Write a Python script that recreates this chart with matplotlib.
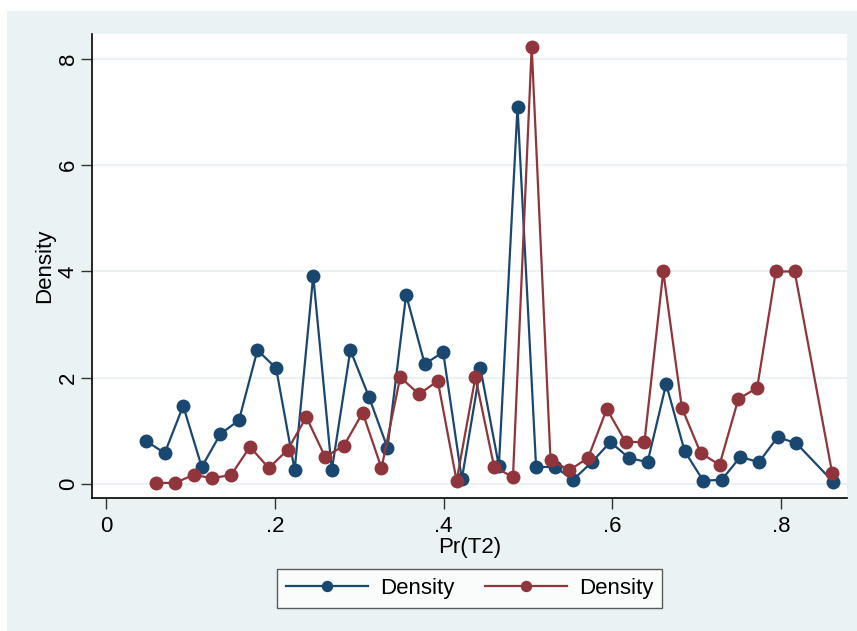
import matplotlib
matplotlib.use("Agg")
import matplotlib.pyplot as plt
from matplotlib.patches import Rectangle

plt.rcParams['font.family'] = ['Liberation Sans', 'DejaVu Sans']

# first density series (navy)
x1 = [0.0474, 0.0695, 0.0914, 0.1134, 0.1355, 0.1575, 0.1794, 0.2015, 0.2235,
      0.2455, 0.2675, 0.2895, 0.3115, 0.3335, 0.3556, 0.3776, 0.3995, 0.4216,
      0.4436, 0.4655, 0.4876, 0.5096, 0.5316, 0.5536, 0.5756, 0.5976, 0.6196,
      0.6417, 0.6637, 0.6856, 0.7077, 0.7297, 0.7516, 0.7737, 0.7957, 0.8178,
      0.8616]
y1 = [0.81, 0.58, 1.47, 0.32, 0.94, 1.20, 2.52, 2.18, 0.26,
      3.92, 0.26, 2.52, 1.64, 0.68, 3.56, 2.26, 2.48, 0.09,
      2.18, 0.34, 7.10, 0.32, 0.32, 0.08, 0.41, 0.79, 0.49,
      0.41, 1.88, 0.62, 0.06, 0.08, 0.51, 0.41, 0.88, 0.77,
      0.04]

# second density series (maroon)
x2 = [0.0593, 0.0815, 0.1038, 0.1260, 0.1483, 0.1705, 0.1928, 0.2151, 0.2373,
      0.2596, 0.2818, 0.3041, 0.3264, 0.3486, 0.3709, 0.3931, 0.4154, 0.4377,
      0.4599, 0.4822, 0.5044, 0.5267, 0.5490, 0.5712, 0.5934, 0.6157, 0.6380,
      0.6603, 0.6824, 0.7047, 0.7270, 0.7493, 0.7716, 0.7937, 0.8160, 0.8604]
y2 = [0.02, 0.02, 0.17, 0.11, 0.17, 0.70, 0.30, 0.64, 1.26,
      0.51, 0.72, 1.34, 0.30, 2.01, 1.69, 1.94, 0.06, 2.01,
      0.32, 0.13, 8.23, 0.45, 0.26, 0.49, 1.41, 0.79, 0.79,
      4.00, 1.43, 0.58, 0.36, 1.60, 1.81, 4.00, 4.00, 0.21]

xticks = [0, 0.2, 0.4, 0.6, 0.8]
xticklabels = ['0', '.2', '.4', '.6', '.8']
yticks = [0, 2, 4, 6, 8]

navy = '#1a476f'
maroon = '#90353b'
bg = '#eaf2f3'
fs = 16

fig = plt.figure(figsize=(8.57, 6.31), dpi=100)
fig.patch.set_facecolor('white')
fig.patches.append(Rectangle((7 / 857, 0), 1, 1 - 11 / 631,
                             transform=fig.transFigure, facecolor=bg,
                             edgecolor='none', zorder=-10))

ax = fig.add_axes([0.1074, 0.2108, 0.8809, 0.7353])
ax.set_facecolor('white')

ax.plot(x1, y1, color=navy, lw=1.6, marker='o', ms=9, label='Density')
ax.plot(x2, y2, color=maroon, lw=1.6, marker='o', ms=9, label='Density')

ax.set_xlim(-0.0166, 0.878)
ax.set_ylim(-0.264, 8.47)
ax.set_xticks(xticks)
ax.set_xticklabels(xticklabels)
ax.set_yticks(yticks)
ax.set_yticklabels([str(t) for t in yticks], rotation=90, va='center')
ax.tick_params(labelsize=fs, length=8, width=1, color='#333333')
ax.tick_params(axis='y', pad=1.5)
ax.tick_params(axis='x', pad=5)
ax.yaxis.grid(True, color=bg, lw=1.5)
ax.set_axisbelow(True)

for s in ['top', 'right']:
    ax.spines[s].set_visible(False)
for s in ['left', 'bottom']:
    ax.spines[s].set_linewidth(1.2)
    ax.spines[s].set_color('black')

ax.set_xlabel('Pr(T2)', fontsize=fs, labelpad=0)
ax.set_ylabel('Density', fontsize=fs, labelpad=2)

leg = fig.legend(loc='center', bbox_to_anchor=(0.548, 0.0674), ncol=2,
                 fontsize=fs, frameon=True, fancybox=False,
                 handlelength=3.7, handletextpad=0.55, columnspacing=1.35,
                 borderpad=0.4, edgecolor='#333333', markerscale=0.8)
leg.get_frame().set_linewidth(1.0)

fig.savefig('out.png', dpi=100)
